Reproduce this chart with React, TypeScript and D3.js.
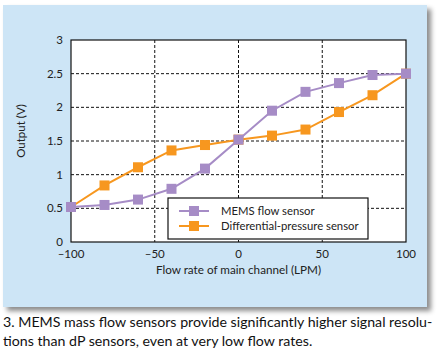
import React, { useEffect, useRef } from 'react';
import * as d3 from 'd3';

const flowRates = [-100, -80, -60, -40, -20, 0, 20, 40, 60, 80, 100];
const memsOutput = [0.52, 0.55, 0.63, 0.79, 1.09, 1.52, 1.95, 2.23, 2.36, 2.48, 2.5];
const dpOutput = [0.52, 0.84, 1.11, 1.36, 1.44, 1.52, 1.58, 1.67, 1.93, 2.18, 2.5];
const xTicks = [-100, -50, 0, 50, 100];
const yTicks = [0, 0.5, 1, 1.5, 2, 2.5, 3];
const seriesNames = ['MEMS flow sensor', 'Differential-pressure sensor'];
const captionLines = [
  '3. MEMS mass flow sensors provide significantly higher signal resolu-',
  'tions than dP sensors, even at very low flow rates.',
];

const colors = ['#a68cc6', '#f7971f'];
const font = 'Lato, "Open Sans", sans-serif';

export default function App() {
  const ref = useRef<SVGSVGElement>(null);

  useEffect(() => {
    const svg = d3.select(ref.current);
    svg.selectAll('*').remove();

    const defs = svg.append('defs');
    const f = defs.append('filter').attr('id', 'shadow')
      .attr('x', '-5%').attr('y', '-5%').attr('width', '115%').attr('height', '115%');
    f.append('feDropShadow').attr('dx', 4).attr('dy', 4).attr('stdDeviation', 2.5)
      .attr('flood-color', '#000').attr('flood-opacity', 0.45);

    // background panel
    svg.append('rect').attr('x', 3).attr('y', 5).attr('width', 424).attr('height', 302)
      .attr('fill', '#cde5f6').attr('filter', 'url(#shadow)');

    const left = 71, right = 406, top = 40, bottom = 242;
    const x = d3.scaleLinear().domain([-100, 100]).range([left, right]);
    const y = d3.scaleLinear().domain([0, 3]).range([bottom, top]);

    svg.append('rect').attr('x', left).attr('y', top)
      .attr('width', right - left).attr('height', bottom - top).attr('fill', '#fff');

    const grid = svg.append('g').attr('stroke', '#111').attr('stroke-width', 1)
      .attr('stroke-dasharray', '3,2');
    xTicks.slice(1, -1).forEach(t => {
      grid.append('line').attr('x1', x(t)).attr('x2', x(t)).attr('y1', top).attr('y2', bottom);
    });
    yTicks.slice(1, -1).forEach(t => {
      grid.append('line').attr('x1', left).attr('x2', right).attr('y1', y(t)).attr('y2', y(t));
    });

    svg.append('rect').attr('x', left).attr('y', top)
      .attr('width', right - left).attr('height', bottom - top)
      .attr('fill', 'none').attr('stroke', '#111').attr('stroke-width', 1.2);

    const series = [memsOutput, dpOutput];
    const line = d3.line<number>().x((_, i) => x(flowRates[i])).y(d => y(d));
    // draw dP first so MEMS sits on top
    [1, 0].forEach(s => {
      svg.append('path').datum(series[s]).attr('d', line)
        .attr('fill', 'none').attr('stroke', colors[s]).attr('stroke-width', 2);
      svg.append('g').selectAll('rect').data(series[s]).join('rect')
        .attr('x', (_, i) => x(flowRates[i]) - 5).attr('y', d => y(d) - 5)
        .attr('width', 10).attr('height', 10).attr('fill', colors[s]);
    });

    // tick labels
    svg.append('g').selectAll('text').data(yTicks).join('text')
      .attr('x', 63).attr('y', d => y(d) + 4).attr('text-anchor', 'end')
      .attr('font-family', font).attr('font-size', 11.5).attr('fill', '#222')
      .text(d => String(d));
    svg.append('g').selectAll('text').data(xTicks).join('text')
      .attr('x', d => x(d)).attr('y', 258).attr('text-anchor', 'middle')
      .attr('font-family', font).attr('font-size', 11.5).attr('fill', '#222')
      .text(d => (d < 0 ? '\u2013' + Math.abs(d) : String(d)));

    svg.append('text').attr('x', x(0)).attr('y', 274).attr('text-anchor', 'middle')
      .attr('font-family', font).attr('font-size', 11.7).attr('fill', '#222')
      .text('Flow rate of main channel (LPM)');
    svg.append('text').attr('transform', `translate(25,${(top + bottom) / 2 - 10}) rotate(-90)`)
      .attr('text-anchor', 'middle')
      .attr('font-family', font).attr('font-size', 11.5).attr('fill', '#222')
      .text('Output (V)');

    // legend
    const lg = svg.append('g').attr('transform', 'translate(168,198)');
    lg.append('rect').attr('width', 200).attr('height', 41)
      .attr('fill', '#fff').attr('stroke', '#111').attr('stroke-width', 1.2);
    seriesNames.forEach((name, i) => {
      const cy = 13 + i * 15;
      lg.append('line').attr('x1', 11).attr('x2', 41).attr('y1', cy).attr('y2', cy)
        .attr('stroke', colors[i]).attr('stroke-width', 2);
      lg.append('rect').attr('x', 21).attr('y', cy - 5).attr('width', 10).attr('height', 10)
        .attr('fill', colors[i]);
      lg.append('text').attr('x', 53).attr('y', cy + 4)
        .attr('font-family', font).attr('font-size', 11.3).attr('fill', '#222')
        .text(name);
    });

    // caption
    captionLines.forEach((t, i) => {
      svg.append('text').attr('x', 3).attr('y', 327 + i * 19)
        .attr('font-family', font).attr('font-size', 14.2).attr('fill', '#111')
        .text(t);
    });
  }, []);

  return (
    <svg ref={ref} width={441} height={363}
      style={{ position: 'absolute', left: 0, top: 0, background: '#fff' }} />
  );
}
